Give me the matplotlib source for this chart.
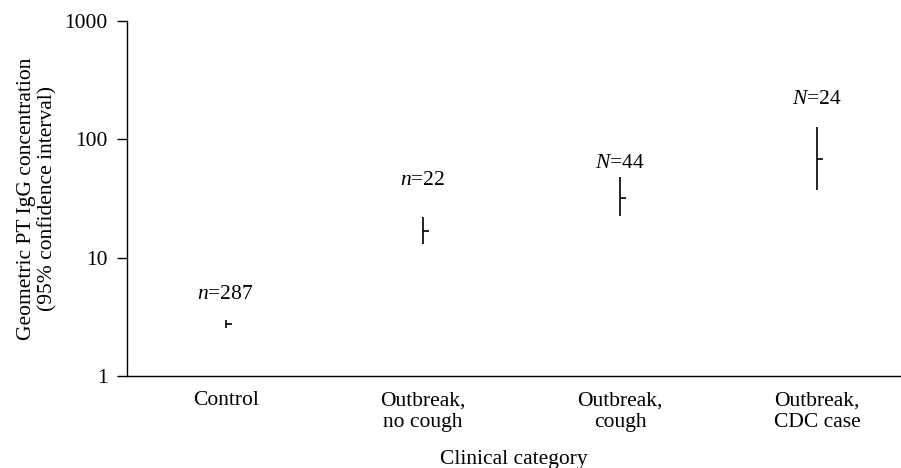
import numpy as np
import matplotlib
matplotlib.use("Agg")
import matplotlib.pyplot as plt

plt.rcParams["font.family"] = ["Liberation Serif", "DejaVu Serif"]
plt.rcParams["mathtext.fontset"] = "custom"
plt.rcParams["mathtext.rm"] = "Liberation Serif"
plt.rcParams["mathtext.it"] = "Liberation Serif:italic"

categories = ["Control", "Outbreak,\nno cough", "Outbreak,\ncough", "Outbreak,\nCDC case"]
gmc = [2.75, 16.8, 32.0, 68.0]          # geometric mean
ci_low = [2.55, 13.1, 22.5, 37.5]
ci_high = [2.97, 22.0, 48.0, 127.0]
n_labels = ["$n$=287", "$n$=22", "$N$=44", "$N$=24"]
label_y = [4.9, 45.0, 63.0, 215.0]

x = np.arange(len(categories))
fs = 15.5

fig = plt.figure(figsize=(9.01, 4.68), dpi=100)
ax = fig.add_axes([127 / 901, 1 - 376 / 468, (900 - 127) / 901, (376 - 21) / 468])

ax.vlines(x, ci_low, ci_high, color="black", linewidth=1.2)
ax.plot(x, gmc, linestyle="none", marker=1, markersize=4.5, markeredgewidth=1.2, color="black")
for xi, yi, lab in zip(x, label_y, n_labels):
    ax.text(xi, yi, lab, ha="center", va="center", fontsize=fs)

ax.set_yscale("log")
ax.set_ylim(1, 1000)
ax.set_xlim(-0.5, 3.42)
ax.set_yticks([1, 10, 100, 1000])
ax.set_yticklabels(["1", "10", "100", "1000"])
ax.yaxis.set_minor_locator(matplotlib.ticker.NullLocator())
ax.tick_params(axis="y", direction="out", length=7, width=1, labelsize=fs, pad=7)
ax.set_xticks(x)
ax.set_xticklabels(categories, fontsize=fs, linespacing=1.2)
ax.tick_params(axis="x", length=0, pad=11)

for side in ["top", "right"]:
    ax.spines[side].set_visible(False)
for side in ["left", "bottom"]:
    ax.spines[side].set_linewidth(1)

ax.set_xlabel("Clinical category", fontsize=fs, labelpad=13)
ax.set_ylabel("Geometric PT IgG concentration\n(95% confidence interval)", fontsize=fs,
              labelpad=5, linespacing=1.15)

fig.savefig("out.png", dpi=100)
